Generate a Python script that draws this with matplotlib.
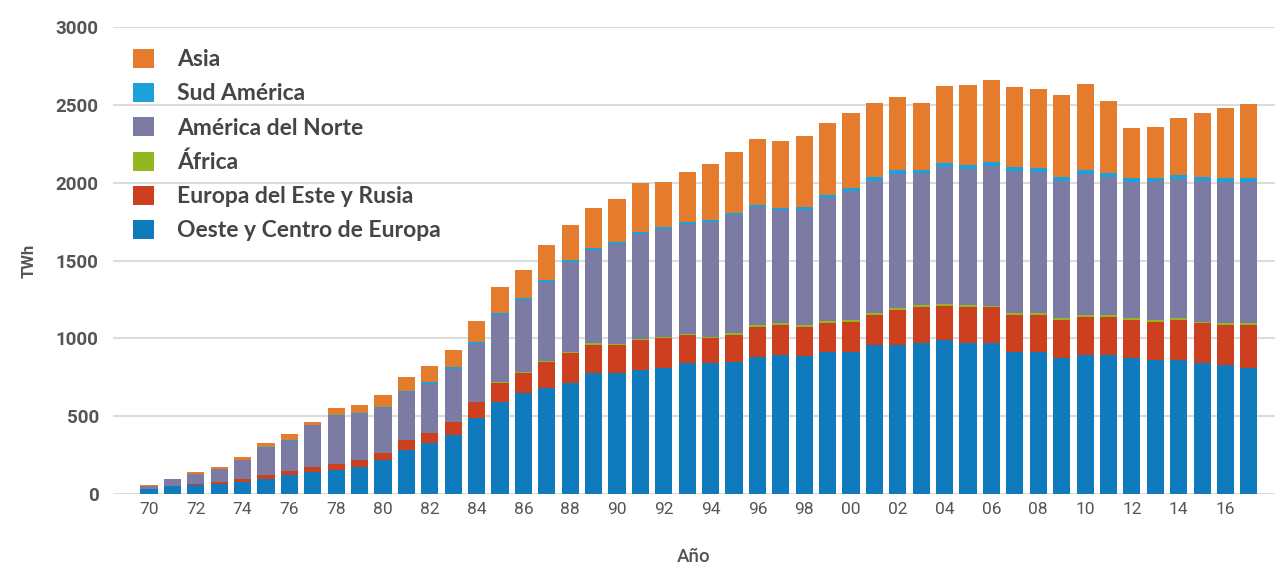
import numpy as np
import matplotlib
matplotlib.use("Agg")
import matplotlib.pyplot as plt

# years 1970..2017
years = np.arange(1970, 2018)
tick_years = np.arange(1970, 2017, 2)
tick_labels = ["%02d" % (y % 100) for y in tick_years]

# TWh por región
oeste = [30, 50, 60, 65, 80, 100, 120, 140, 155, 173,
         218, 283, 328, 379, 488, 591, 649, 681, 713, 777,
         777, 796, 809, 841, 841, 848, 880, 893, 890, 912,
         912, 957, 957, 970, 989, 970, 970, 912, 912, 873,
         893, 893, 873, 861, 861, 841, 828, 809]
este = [3, 5, 8, 10, 20, 20, 28, 32, 38, 45,
        45, 64, 64, 83, 103, 122, 128, 167, 192, 180,
        180, 193, 193, 180, 161, 173, 193, 192, 185, 186,
        193, 193, 225, 231, 218, 231, 231, 238, 238, 245,
        244, 244, 245, 244, 257, 257, 257, 276]
africa = [0, 0, 0, 0, 0, 0, 0, 0, 0, 0,
          0, 0, 0, 0, 4, 5, 9, 7, 10, 11,
          8, 9, 10, 7, 9, 11, 12, 13, 14, 13,
          13, 11, 12, 12, 14, 12, 10, 12, 12, 13,
          12, 13, 12, 14, 14, 11, 15, 15]
norte = [22, 40, 62, 85, 117, 178, 195, 271, 311, 299,
         293, 307, 318, 344, 368, 431, 459, 507, 576, 600,
         644, 675, 693, 709, 737, 761, 757, 725, 739, 794,
         829, 853, 865, 848, 881, 878, 894, 914, 908, 883,
         907, 888, 878, 890, 895, 903, 907, 906]
sud = [0, 0, 0, 0, 1, 2, 2, 2, 3, 3,
       3, 8, 9, 10, 13, 14, 14, 12, 12, 12,
       9, 10, 10, 10, 12, 12, 14, 14, 15, 15,
       18, 22, 22, 20, 24, 22, 27, 24, 24, 22,
       25, 24, 22, 21, 22, 24, 23, 24]
asia = [5, 3, 11, 13, 20, 27, 40, 18, 45, 52,
        77, 89, 103, 109, 135, 166, 180, 225, 225, 257,
        277, 314, 289, 321, 359, 391, 424, 430, 456, 463,
        482, 475, 469, 430, 494, 514, 527, 514, 507, 527,
        552, 462, 321, 327, 366, 411, 449, 475]

series = [
    ("Oeste y Centro de Europa", oeste, "#0f7bbd"),
    ("Europa del Este y Rusia", este, "#cc3f1f"),
    ("África", africa, "#93b71f"),
    ("América del Norte", norte, "#7b7ba3"),
    ("Sud América", sud, "#1da1d8"),
    ("Asia", asia, "#e57b2c"),
]

fig = plt.figure(figsize=(12.81, 5.66), dpi=100)
ax = fig.add_axes([0.088, 0.127, 0.907, 0.825])

bottom = np.zeros(len(years))
handles = []
for name, vals, col in series:
    vals = np.array(vals, dtype=float)
    h = ax.bar(years, vals, width=0.73, bottom=bottom, color=col,
               label=name, linewidth=0, zorder=3)
    handles.append(h)
    bottom += vals

ax.set_xlim(1968.45, 2018.1)
ax.set_ylim(0, 3000)
ax.set_yticks(np.arange(0, 3001, 500))
ax.set_xticks(tick_years)
ax.set_xticklabels(tick_labels)

ax.grid(axis="y", color="#dcdcdc", linewidth=1.5, zorder=0)
ax.set_axisbelow(True)
for s in ax.spines.values():
    s.set_visible(False)
ax.tick_params(length=0, colors="#555555")
ax.tick_params(axis="x", pad=6, labelsize=12.5)
ax.tick_params(axis="y", pad=10, labelsize=13.5)
for lab in ax.get_xticklabels() + ax.get_yticklabels():
    lab.set_family("Roboto")
for lab in ax.get_yticklabels():
    lab.set_fontweight("bold")

ax.set_ylabel("TWh", fontsize=12, color="#555555", fontweight="bold",
              family="Roboto", labelpad=14)
ax.set_xlabel("Año", fontsize=13.5, color="#555555", family="Roboto",
              fontweight="medium", labelpad=22)

leg = ax.legend(handles[::-1], [s[0] for s in series][::-1],
                loc="upper left", bbox_to_anchor=(0.0, 0.998),
                frameon=False, handlelength=0.9, handleheight=0.9,
                handletextpad=1.0, labelspacing=0.56,
                prop={"family": "Lato", "size": 16.5, "weight": "bold"})
for t in leg.get_texts():
    t.set_color("#454545")

fig.savefig("out.png", dpi=100)
